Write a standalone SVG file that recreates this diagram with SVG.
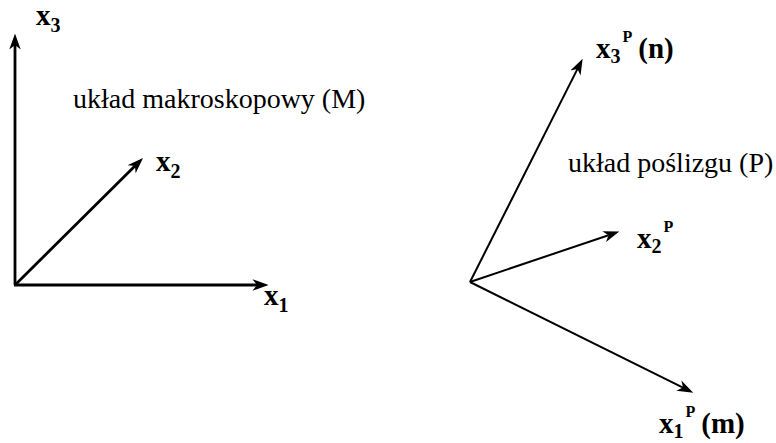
<svg xmlns="http://www.w3.org/2000/svg" width="776" height="443" viewBox="0 0 776 443">
<style>
.ax{stroke:#000;fill:none;marker-end:url(#ah)}
.l{stroke-width:2.8}
.r{stroke-width:2}
.lab{font-weight:bold;font-size:29px;fill:#000}
.sub{font-size:20px}
.sup{font-size:16px}
.txt{font-size:28px;fill:#000}
</style>
<defs>
<marker id="ah" markerUnits="userSpaceOnUse" markerWidth="16" markerHeight="12" refX="4" refY="5" orient="auto" viewBox="0 0 14 10">
<path d="M0,0 L14,5 L0,10 L4,5 z" fill="#000"/>
</marker>
</defs>
<g id="connectors">
<line class="ax l" x1="15" y1="285" x2="15" y2="45"/>
<line class="ax l" x1="14" y1="285" x2="257" y2="285"/>
<line class="ax l" x1="15" y1="285" x2="134.9" y2="166"/>
<line class="ax r" x1="470" y1="282" x2="577.5" y2="68.9"/>
<line class="ax r" x1="470" y1="282" x2="608.5" y2="235.2"/>
<line class="ax r" x1="470" y1="282" x2="683" y2="387.6"/>
</g>
<g font-family="'Liberation Serif', 'Times New Roman', Tinos, serif">
<g id="label-x3"><text class="lab" x="36" y="25">x<tspan class="sub" dy="7">3</tspan></text></g>
<g id="label-x2"><text class="lab" x="156" y="171">x<tspan class="sub" dy="7">2</tspan></text></g>
<g id="label-x1"><text class="lab" x="264" y="305">x<tspan class="sub" dy="7">1</tspan></text></g>
<g id="label-M"><text class="txt" x="73" y="108">układ makroskopowy (M)</text></g>
<g id="label-x3P"><text class="lab" x="596" y="58">x<tspan class="sub" dy="5">3</tspan><tspan class="sup" dx="2" dy="-21">P</tspan><tspan dx="6" dy="16">(n)</tspan></text></g>
<g id="label-P"><text class="txt" x="568" y="172">układ poślizgu (P)</text></g>
<g id="label-x2P"><text class="lab" x="637" y="248">x<tspan class="sub" dy="5">2</tspan><tspan class="sup" dx="2" dy="-21">P</tspan></text></g>
<g id="label-x1P"><text class="lab" x="659" y="433">x<tspan class="sub" dy="5">1</tspan><tspan class="sup" dx="2" dy="-21">P</tspan><tspan dx="6" dy="16">(m)</tspan></text></g>
</g>
</svg>
